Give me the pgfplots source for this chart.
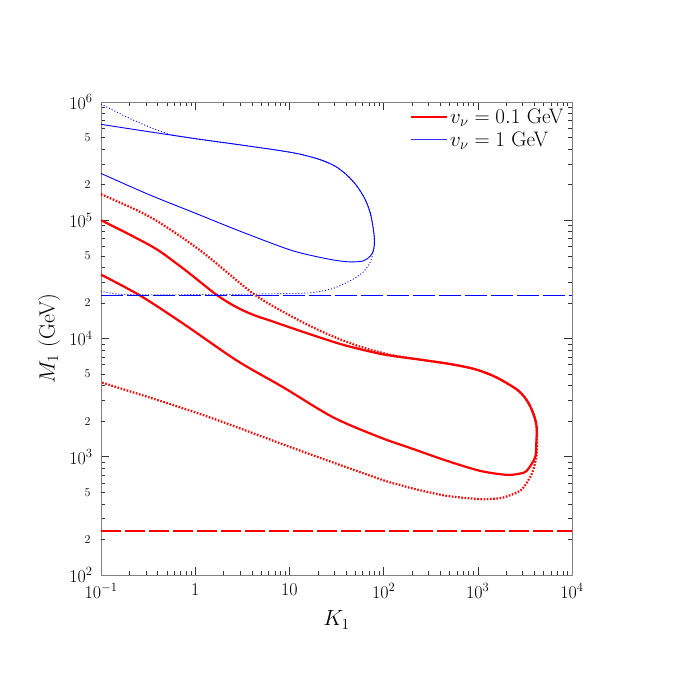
\RequirePackage{fix-cm}
\documentclass[border=0pt]{standalone}
\usepackage{pgfplots}
\pgfplotsset{compat=1.18}
\begin{document}
\begin{tikzpicture}
\path[use as bounding box] (0,0) rectangle (674pt,674pt);
\begin{axis}[
  at={(101pt,99pt)}, anchor=south west,
  width=471pt, height=473pt, scale only axis,
  xmode=log, ymode=log,
  xmin=0.1, xmax=10000, ymin=100, ymax=1000000,
  xtick={0.1,1,10,100,1000,10000},
  xticklabels={$10^{-1}$,$1$,$10$,$10^2$,$10^3$,$10^4$},
  ytick={100,1000,10000,100000,1000000},
  yticklabels={$10^2$,$10^3$,$10^4$,$10^5$,$10^6$},
  minor xtick={0.2,0.3,0.4,0.5,0.6,0.7,0.8,0.9,2,3,4,5,6,7,8,9,20,30,40,50,60,70,80,90,200,300,400,500,600,700,800,900,2000,3000,4000,5000,6000,7000,8000,9000},
  minor ytick={300,400,600,700,800,900,3000,4000,6000,7000,8000,9000,30000,40000,60000,70000,80000,90000,300000,400000,600000,700000,800000,900000},
  extra y ticks={200,500,2000,5000,20000,50000,200000,500000},
  extra y tick labels={2,5,2,5,2,5,2,5},
  extra y tick style={major tick length=4pt, yticklabel style={font=\fontsize{12}{14}\selectfont, xshift=-2pt}},
  major tick length=8pt, minor tick length=4pt,
  tick align=inside, tick pos=both,
  axis line style={gray, line width=0.9pt},
  every tick/.style={black!80, line width=0.5pt},
  tick label style={font=\fontsize{18}{21}\selectfont},
  xticklabel style={yshift=-5pt},
  yticklabel style={xshift=-5pt},
  xlabel={$K_1$}, ylabel={$M_1$ (GeV)},
  every axis x label/.style={at={(axis description cs:0.5,-0.095)}, anchor=center, font=\fontsize{22}{26}\selectfont},
  every axis y label/.style={at={(axis description cs:-0.11,0.5)}, rotate=90, anchor=center, font=\fontsize{22}{26}\selectfont},
  legend style={at={(0.993,0.995)}, anchor=north east, draw=none, fill=none,
    font=\fontsize{21}{24}\selectfont, row sep=3pt},
  legend cell align=left,
]
\addlegendimage{legend image code/.code={\draw[draw=red, line width=2.2pt] (0pt,0pt) -- (36pt,0pt);}}
\addlegendentry{$v_\nu = 0.1$ GeV}
\addlegendimage{legend image code/.code={\draw[draw=blue!80!white, line width=1.3pt] (0pt,0pt) -- (36pt,0pt);}}
\addlegendentry{$v_\nu = 1$ GeV}
% red solid closed curve
\addplot[red, line width=2.2pt, smooth, tension=0.5, forget plot] coordinates {
(0.1,100000) (0.2,75860) (0.398,56230) (0.794,37580) (1.585,24270) (2.239,20180) (3.162,17380) (4.467,15490) (6.31,14130) (10,12450) (19.95,10350) (39.8,8710) (100,7328) (251,6607) (501,6095) (891,5559) (1259,5070) (1722,4519) (2588,3715) (3162,3162) (3581,2692) (3981,2188) (4217,1762) (4169,1259) (4046,982) (3304,760) (2805,721) (2028,703) (1057,760) (468,925) (207,1161) (91.6,1459) (29.2,2153) (8.61,3864) (2.76,6516) (0.748,13340) (0.259,23120) (0.1,34670)
};
% blue solid closed curve
\addplot[blue, line width=0.9pt, smooth, tension=0.5, forget plot] coordinates {
(0.1,647000) (0.316,562000) (1,490000) (3.162,431500) (7.94,388200) (12.97,362200) (21.1,325800) (30.5,287100) (40.9,240400) (52.2,194100) (63.5,150700) (71.8,116900) (77.2,87900) (80.0,67700) (78,55700) (71.8,49500) (60.3,45190) (44.0,44460) (31.6,45710) (20,48980) (10.1,56230) (3.162,79430) (1,114800) (0.316,166000) (0.1,248900)
};
% red dotted
\addplot[red, line width=2.2pt, dash pattern=on 1.6pt off 1.6pt, smooth, tension=0.5, forget plot] coordinates {
(0.1,165960) (0.331,106660) (1.125,55720) (4.14,23930) (10.1,15670) (22.9,11300) (51.8,8730) (117,7295) (251,6607) (501,6095) (891,5559) (1259,5070) (1722,4519) (2588,3715) (3162,3162) (3581,2692) (3981,2188) (4217,1762) (4266,1318) (4217,1047) (3981,832) (3733,713) (3311,603) (2805,515) (1866,452) (1350,440) (1057,438) (468,467) (207,537) (149,578) (91.6,647) (13,1125) (1.125,2301) (0.1,4266)
};
% red dashed
\addplot[red, line width=2.2pt, dash pattern=on 20pt off 4pt, forget plot] coordinates {(0.1,236) (10000,236)};
% blue dotted
\addplot[blue, line width=0.9pt, dash pattern=on 1pt off 2pt, smooth, tension=0.5, forget plot] coordinates {
(0.1,961600) (0.22,703100) (0.498,543300) (1,490000) (3.162,431500) (7.94,388200) (12.97,362200) (21.1,325800) (30.5,287100) (40.9,240400) (52.2,194100) (63.5,150700) (71.8,116900) (77.2,87900) (80.0,67700) (78.5,56230) (72.4,44670) (60.3,36310) (44.7,30900) (28.2,26300) (15.85,24270) (6.31,23880) (2.0,23550) (0.251,23440) (0.141,23880) (0.1,25120)
};
% blue dashed
\addplot[blue, line width=0.9pt, dash pattern=on 22pt off 4pt, forget plot] coordinates {(0.1,23100) (10000,23100)};
\end{axis}
\end{tikzpicture}
\end{document}
